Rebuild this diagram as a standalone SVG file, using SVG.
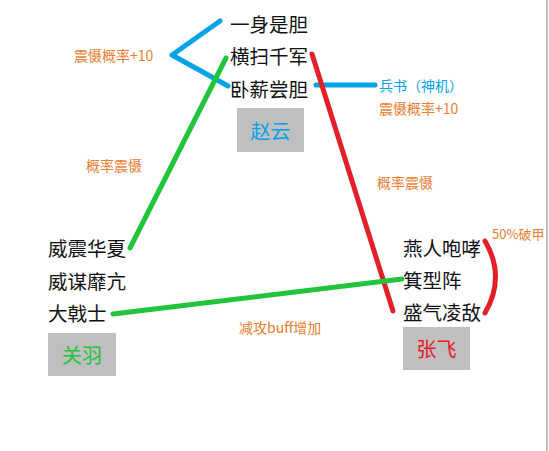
<svg xmlns="http://www.w3.org/2000/svg" width="549" height="451" viewBox="0 0 549 451">
<style>
.sk{font-family:"Noto Sans CJK SC","Liberation Sans",sans-serif;font-size:19.5px;fill:#111;dominant-baseline:central}
.lb{font-family:"Noto Sans CJK SC","Liberation Sans",sans-serif;font-size:14px;fill:#ed7d31;dominant-baseline:central}
.box{fill:#bfbfbf}
.nm{font-family:"Noto Sans CJK SC","Liberation Sans",sans-serif;font-size:20px;text-anchor:middle;dominant-baseline:central}
.ln{fill:none;stroke-width:5;stroke-linecap:round;stroke-linejoin:round}
.b{stroke:#00a2e8}.g{stroke:#22c43c}.r{stroke:#e3202a}
</style>
<rect width="549" height="451" fill="#fff"/>
<line x1="547" y1="0" x2="547" y2="451" stroke="#aaa" stroke-width="1.5"/>
<g id="connectors">
<polyline class="ln b" points="220,21 172,55 228,86"/>
<line class="ln b" x1="316" y1="85" x2="375" y2="85"/>
<line class="ln g" x1="226" y1="58" x2="130" y2="248"/>
<line class="ln r" x1="312" y1="54" x2="393" y2="311"/>
<line class="ln g" x1="113" y1="314" x2="402" y2="279"/>
<path class="ln r" d="M485,241 Q506,277 485,313"/>
<text class="lb" x="74" y="55">震慑概率+10</text>
<text class="lb" x="379" y="85" style="fill:#00a2e8">兵书（神机）</text>
<text class="lb" x="379" y="108">震慑概率+10</text>
<text class="lb" x="86" y="165">概率震慑</text>
<text class="lb" x="377" y="182">概率震慑</text>
<text class="lb" x="239" y="327">减攻buff增加</text>
<text class="lb" x="492" y="233" style="font-size:13px">50%破甲</text>
</g>
<g id="zhaoyun">
<text class="sk" x="230" y="23">一身是胆</text>
<text class="sk" x="230" y="55">横扫千军</text>
<text class="sk" x="230" y="88">卧薪尝胆</text>
<rect class="box" x="237" y="108" width="67" height="44"/>
<text class="nm" x="270.5" y="130" fill="#00a2e8">赵云</text>
</g>
<g id="guanyu">
<text class="sk" x="48" y="247">威震华夏</text>
<text class="sk" x="48" y="280">威谋靡亢</text>
<text class="sk" x="48" y="312">大戟士</text>
<rect class="box" x="48" y="333" width="68" height="43"/>
<text class="nm" x="82" y="354.5" fill="#22c43c">关羽</text>
</g>
<g id="zhangfei">
<text class="sk" x="403" y="247">燕人咆哮</text>
<text class="sk" x="403" y="279">箕型阵</text>
<text class="sk" x="403" y="311">盛气凌敌</text>
<rect class="box" x="403" y="327" width="67" height="43"/>
<text class="nm" x="436.5" y="348.5" fill="#e3202a">张飞</text>
</g>
</svg>
